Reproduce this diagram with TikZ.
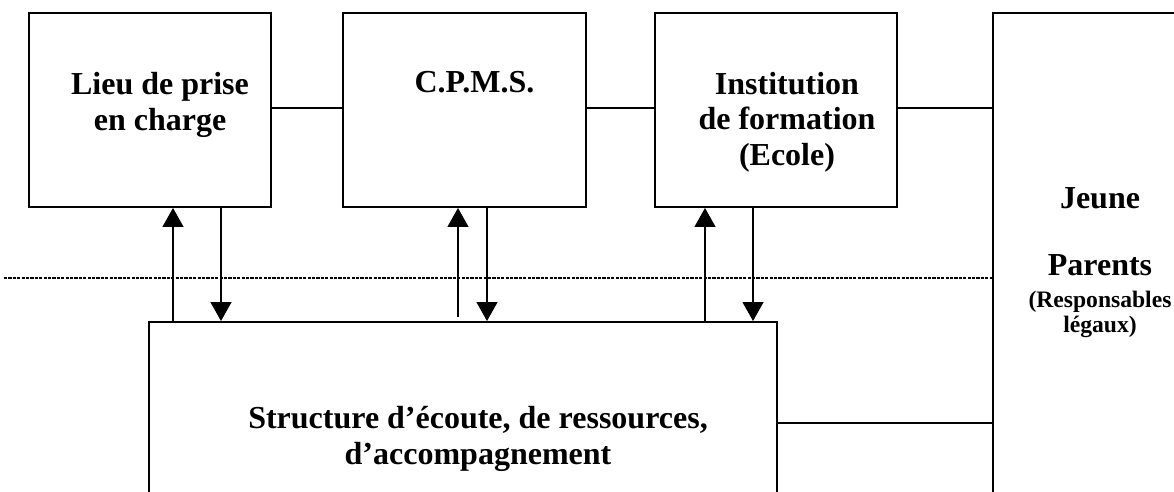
\documentclass[tikz,border=0pt]{standalone}
\usepackage{fontspec}
\setmainfont{Liberation Serif}
\usetikzlibrary{positioning,arrows.meta}

\tikzset{
  boite/.style={draw, line width=1pt, rectangle, inner sep=0pt},
  texte/.style={font=\fontsize{16}{17.75}\selectfont\bfseries, align=center, inner sep=0pt},
  petit/.style={font=\fontsize{11.8}{12.5}\selectfont\bfseries, align=center, inner sep=0pt},
  lien/.style={line width=0.7pt},
  fleche/.style={line width=0.7pt, -{Triangle[length=9.5pt,width=10.5pt]}},
  pointille/.style={line width=1.3pt, dash pattern=on 1.6pt off 0.6pt}
}

\begin{document}
\begin{tikzpicture}[x=0.5pt, y=-0.5pt]
		\clip (0,0) rectangle (1174,492);

		% les cadres
		\node[boite, minimum width=121pt, minimum height=97pt] (lieu) at (150,110) {};
		\node[boite, minimum width=121.5pt, minimum height=97pt] (cpms) at (464.5,110) {};
		\node[boite, minimum width=121pt, minimum height=97pt] (institution) at (776,110) {};
		\node[boite, minimum width=98pt, minimum height=293.5pt] (jeune) at (1091,306.5) {};
		\node[boite, minimum width=314pt, minimum height=119pt] (structure) at (463,441) {};

		% les textes
		\node[texte] (lieutxt) at (160,105) {Lieu de prise\\en charge};
		\node[texte, anchor=base] (cpmstxt) at (474.5,93) {C.P.M.S.};
		\node[texte] (institutiontxt) at (787,122) {Institution\\de formation\\(Ecole)};
		\node[texte] (structuretxt) at (478,439) {Structure d’écoute, de ressources,\\d’accompagnement};
		\node[texte, anchor=base] (jeunetxt) at (1100,208) {Jeune};
		\node[texte, anchor=base] (parentstxt) at (1100,276) {Parents};
		\node[petit, anchor=base] (resptxt) at (1100,307) {(Responsables};
		\node[petit, anchor=base] (legauxtxt) at (1100,332) {légaux)};

		% liaisons horizontales
		\draw[lien] ([yshift=1pt]lieu.east) -- ([yshift=1pt]cpms.west);
		\draw[lien] ([yshift=1pt]cpms.east) -- ([yshift=1pt]institution.west);
		\draw[lien] ([yshift=1pt]institution.east) -- ([yshift=1pt]institution.east -| jeune.west);
		\coordinate (niv) at (0,423);
		\draw[lien] (structure.east |- niv) -- (jeune.west |- niv);

		% ligne pointillee
		\coordinate (pg) at (4,278);
		\draw[pointille] (pg) -- (pg -| jeune.west);

		% fleches montantes et descendantes
		\coordinate (m1) at (173,0);
		\coordinate (d1) at (221,0);
		\coordinate (m2) at (458,0);
		\coordinate (d2) at (487,0);
		\coordinate (m3) at (705,0);
		\coordinate (d3) at (753,0);
		\draw[fleche] (structure.north -| m1) -- (lieu.south -| m1);
		\draw[fleche] (lieu.south -| d1) -- (structure.north -| d1);
		\draw[fleche, shorten <=2pt] (structure.north -| m2) -- (cpms.south -| m2);
		\draw[fleche] (cpms.south -| d2) -- (structure.north -| d2);
		\draw[fleche] (structure.north -| m3) -- (institution.south -| m3);
		\draw[fleche] (institution.south -| d3) -- (structure.north -| d3);

\end{tikzpicture}
\end{document}
